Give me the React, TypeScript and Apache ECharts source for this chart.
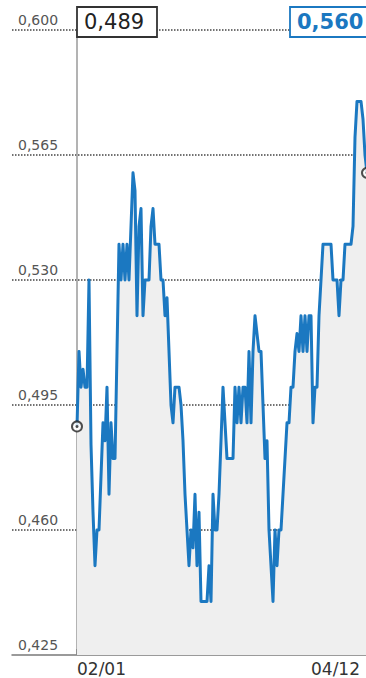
import React, { useEffect, useRef } from "react";
import * as echarts from "echarts";

// Daily closing values (one per sample)
const prices: number[] = [
  0.489, 0.510, 0.500, 0.505, 0.500, 0.500, 0.530, 0.484, 0.465, 0.450,
  0.460, 0.460, 0.475, 0.490, 0.485, 0.500, 0.470, 0.490, 0.480, 0.480,
  0.510, 0.540, 0.530, 0.540, 0.530, 0.540, 0.530, 0.545, 0.560, 0.555,
  0.520, 0.545, 0.550, 0.520, 0.530, 0.530, 0.530, 0.545, 0.550, 0.540,
  0.540, 0.540, 0.530, 0.530, 0.520, 0.525, 0.510, 0.495, 0.490, 0.500,
  0.500, 0.500, 0.495, 0.485, 0.470, 0.460, 0.450, 0.460, 0.455, 0.470,
  0.450, 0.465, 0.440, 0.440, 0.440, 0.440, 0.450, 0.440, 0.470, 0.460,
  0.460, 0.470, 0.485, 0.500, 0.490, 0.480, 0.480, 0.480, 0.480, 0.500,
  0.490, 0.500, 0.490, 0.500, 0.500, 0.490, 0.510, 0.490, 0.510, 0.520,
  0.515, 0.510, 0.510, 0.495, 0.480, 0.485, 0.460, 0.450, 0.440, 0.460,
  0.450, 0.460, 0.460, 0.470, 0.480, 0.490, 0.490, 0.500, 0.500, 0.510,
  0.515, 0.510, 0.520, 0.510, 0.520, 0.510, 0.520, 0.520, 0.490, 0.500,
  0.500, 0.520, 0.530, 0.540, 0.540, 0.540, 0.540, 0.540, 0.530, 0.530,
  0.530, 0.520, 0.530, 0.530, 0.540, 0.540, 0.540, 0.540, 0.545, 0.570,
  0.580, 0.580, 0.580, 0.575, 0.565, 0.560,
];

const xTickIndex: number[] = [0, 117];
const xTickLabels: string[] = ["02/01", "04/12"];

const Y_MIN = 0.425;
const Y_MAX = 0.6;
const Y_STEP = 0.035;

const firstLabel = "0,489";
const lastLabel = "0,560";

const BLUE = "#1b78c1";
const fmt = (v: number) => v.toFixed(3).replace(".", ",");

export default function App() {
  const ref = useRef<HTMLDivElement>(null);

  useEffect(() => {
    if (!ref.current) return;
    const chart = echarts.init(ref.current, null, { renderer: "svg" });
    const lastIdx = prices.length - 1;
    const seriesData = prices.map((v, i) => [i, v]);

    chart.setOption({
      animation: false,
      grid: {
        left: 12,
        right: -1,
        top: 30,
        bottom: 23,
        containLabel: false,
        outerBoundsMode: "none",
      },
      xAxis: {
        type: "value",
        min: -32.5,
        max: lastIdx,
        splitLine: { show: false },
        axisLine: { show: true, onZero: false, lineStyle: { color: "#7a7a7a", width: 1.5 } },
        axisTick: {
          show: true,
          inside: true,
          length: 6,
          customValues: [xTickIndex[0]],
          lineStyle: { color: "#444", width: 1.5 },
        },
        axisLabel: {
          show: true,
          customValues: xTickIndex,
          formatter: (v: number) => {
            const k = xTickIndex.indexOf(Math.round(v));
            return k >= 0 ? xTickLabels[k] : "";
          },
          align: "left",
          verticalAlign: "top",
          margin: 5,
          lineHeight: 17,
          fontFamily: "DejaVu Sans",
          fontSize: 17,
          color: "#333",
        },
      },
      yAxis: {
        type: "value",
        min: Y_MIN,
        max: Y_MAX,
        interval: Y_STEP,
        axisLine: { show: false },
        axisTick: { show: false },
        splitLine: {
          show: true,
          showMinLine: false,
          lineStyle: { color: "#444", width: 1.5, type: [1.5, 1.5] },
        },
        axisLabel: {
          inside: true,
          margin: 6,
          verticalAlign: "bottom",
          padding: [0, 0, 3, 0],
          formatter: (v: number) => fmt(v),
          fontFamily: "DejaVu Sans",
          fontSize: 14,
          color: "#555",
        },
      },
      series: [
        {
          type: "line",
          data: seriesData,
          showSymbol: false,
          lineStyle: { color: BLUE, width: 3, join: "round" },
          areaStyle: { color: "#efefef", opacity: 1 },
          z: 3,
          markLine: {
            silent: true,
            symbol: ["none", "none"],
            label: { show: false },
            lineStyle: { color: "#9a9a9a", width: 1.5, type: "solid" },
            data: [{ xAxis: 0 }],
            z: 1,
          },
        },
        {
          type: "scatter",
          data: [seriesData[0], seriesData[lastIdx]],
          symbol: "circle",
          symbolSize: 10,
          itemStyle: { color: "#fff", borderColor: "#222", borderWidth: 2 },
          z: 5,
          clip: false,
        },
        {
          type: "scatter",
          data: [seriesData[0], seriesData[lastIdx]],
          symbol: "circle",
          symbolSize: 3,
          itemStyle: { color: "#222" },
          z: 6,
          clip: false,
        },
      ],
    });

    const [x0, yTop] = chart.convertToPixel({ gridIndex: 0 }, [0, Y_MAX]) as number[];
    const [xN] = chart.convertToPixel({ gridIndex: 0 }, [lastIdx, Y_MAX]) as number[];
    const boxTop = yTop - 23;

    chart.setOption({
      graphic: [
        {
          type: "rect",
          z: 100,
          shape: { x: x0, y: boxTop, width: 80, height: 30 },
          style: { fill: "#fff", stroke: "#333", lineWidth: 1.8 },
        },
        {
          type: "text",
          z: 101,
          x: x0 + 7,
          y: boxTop + 15,
          style: {
            text: firstLabel,
            fill: "#222",
            font: "21px 'DejaVu Sans'",
            verticalAlign: "middle",
            align: "left",
          },
        },
        {
          type: "rect",
          z: 100,
          shape: { x: xN - 77, y: boxTop, width: 95, height: 30 },
          style: { fill: "#fff", stroke: BLUE, lineWidth: 1.8 },
        },
        {
          type: "text",
          z: 101,
          x: xN - 70,
          y: boxTop + 15,
          style: {
            text: lastLabel,
            fill: BLUE,
            font: "bold 21px 'DejaVu Sans'",
            verticalAlign: "middle",
            align: "left",
          },
        },
      ],
    });

    return () => chart.dispose();
  }, []);

  return (
    <div
      ref={ref}
      style={{ position: "absolute", left: 0, top: 0, width: 366, height: 678, background: "#fff" }}
    />
  );
}
